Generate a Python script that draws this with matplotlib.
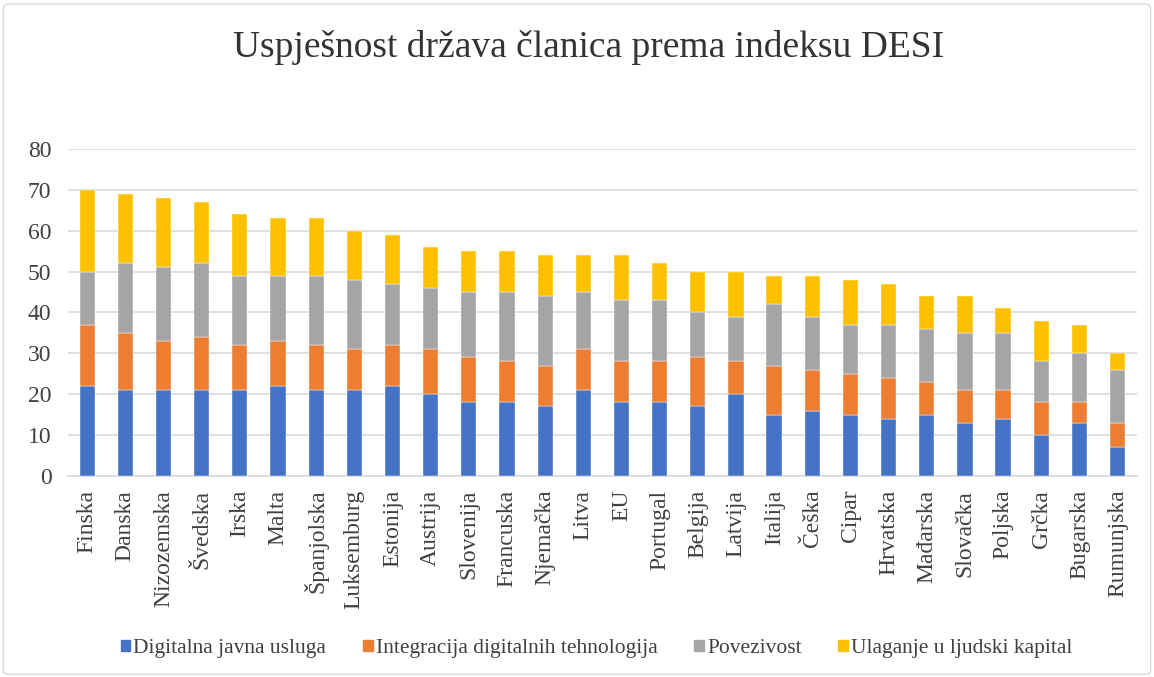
import matplotlib
matplotlib.use("Agg")
import matplotlib.pyplot as plt
import matplotlib.patches as mpatches
import numpy as np

# Podaci (procjena s grafikona)
drzave = ["Finska", "Danska", "Nizozemska", "Švedska", "Irska", "Malta",
          "Španjolska", "Luksemburg", "Estonija", "Austrija", "Slovenija",
          "Francuska", "Njemačka", "Litva", "EU", "Portugal", "Belgija",
          "Latvija", "Italija", "Češka", "Cipar", "Hrvatska", "Mađarska",
          "Slovačka", "Poljska", "Grčka", "Bugarska", "Rumunjska"]

javna_usluga = [22, 21, 21, 21, 21, 22, 21, 21, 22, 20, 18, 18, 17, 21,
                18, 18, 17, 20, 15, 16, 15, 14, 15, 13, 14, 10, 13, 7]
integracija = [15, 14, 12, 13, 11, 11, 11, 10, 10, 11, 11, 10, 10, 10,
               10, 10, 12, 8, 12, 10, 10, 10, 8, 8, 7, 8, 5, 6]
povezivost = [13, 17, 18, 18, 17, 16, 17, 17, 15, 15, 16, 17, 17, 14,
              15, 15, 11, 11, 15, 13, 12, 13, 13, 14, 14, 10, 12, 13]
ljudski_kapital = [20, 17, 17, 15, 15, 14, 14, 12, 12, 10, 10, 10, 10, 9,
                   11, 9, 10, 11, 7, 10, 11, 10, 8, 9, 6, 10, 7, 4]

serije = [
    ("Digitalna javna usluga", javna_usluga, "#4472c4"),
    ("Integracija digitalnih tehnologija", integracija, "#ed7d31"),
    ("Povezivost", povezivost, "#a5a5a5"),
    ("Ulaganje u ljudski kapital", ljudski_kapital, "#ffc000"),
]

plt.rcParams["font.family"] = ["Liberation Serif", "DejaVu Serif"]
TEKST = "#404040"

fig = plt.figure(figsize=(11.54, 6.77), dpi=100)
ax = fig.add_axes([0.059, 0.297, 0.926, 0.483])

x = np.arange(len(drzave))
dno = np.zeros(len(drzave))
handles = []
for naziv, vrijednosti, boja in serije:
    ax.bar(x, vrijednosti, bottom=dno, width=0.4, color=boja,
           edgecolor="white", linewidth=0.3, zorder=3)
    dno += np.array(vrijednosti)
    handles.append(mpatches.Patch(color=boja, label=naziv))

ax.set_xlim(-0.5, len(drzave) - 0.5)
ax.set_ylim(0, 80)
ax.set_yticks(range(0, 81, 10))
ax.set_xticks(x)
ax.set_xticklabels(drzave, rotation=90, fontsize=17, color=TEKST)
ax.tick_params(axis="y", labelsize=17, labelcolor=TEKST, length=0, pad=12)
ax.tick_params(axis="x", length=0, pad=10)
ax.yaxis.grid(True, color="#d9d9d9", linewidth=1.2, zorder=0)
ax.set_axisbelow(True)
for s in ["top", "right", "left"]:
    ax.spines[s].set_visible(False)
ax.spines["bottom"].set_color("#d9d9d9")
ax.spines["bottom"].set_linewidth(1.2)

fig.suptitle("Uspješnost država članica prema indeksu DESI",
             fontsize=27, x=0.51, y=0.955, color="#333333")

leg = fig.legend(handles=handles, loc="center", bbox_to_anchor=(0.517, 0.042),
                 ncol=4, frameon=False, fontsize=15.5, handlelength=0.45,
                 handleheight=0.45, handletextpad=0.15, columnspacing=1.7)
for t in leg.get_texts():
    t.set_color(TEKST)

# okvir grafikona
fig.patches.append(mpatches.FancyBboxPatch(
    (0.003, 0.004), 0.994, 0.99, boxstyle="round,pad=0,rounding_size=0.005",
    transform=fig.transFigure, fill=False, edgecolor="#d9d9d9", linewidth=1))

fig.savefig("out.png", dpi=100)
